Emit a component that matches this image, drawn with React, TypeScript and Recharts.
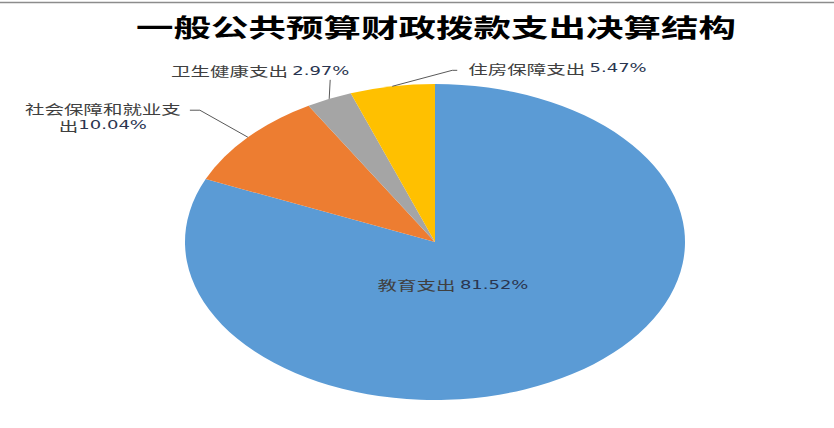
import React from 'react';
import { PieChart, Pie, Cell } from 'recharts';

const TITLE = '一般公共预算财政拨款支出决算结构';
const CATEGORIES = ['教育支出', '社会保障和就业支出', '卫生健康支出', '住房保障支出'];
const SHARES = [81.52, 10.04, 2.97, 5.47];
const COLORS = ['#5B9BD5', '#ED7D31', '#A5A5A5', '#FFC000'];

const data = CATEGORIES.map((name, i) => ({ name, value: SHARES[i] }));

const W = 834;
const H = 428;
const CX = 435;
const CY = 242;
const RY = 158;
const STRETCH = 250 / 158; // pie is drawn horizontally stretched
const TEXT_STRETCH = 1.5;

// label layout (offsets only)
type Layout = {
  inside?: boolean;
  elbow?: [number, number];
  end?: [number, number];
  text: [number, number];
  anchor: 'start' | 'middle' | 'end';
  wrapAt?: number;
};
const LABEL_LAYOUT: Layout[] = [
  { inside: true, text: [18, 43], anchor: 'middle' },
  { elbow: [-48, -27], end: [-58, -27], text: [-87, -2], anchor: 'middle', wrapAt: 8 },
  { elbow: [1, -19], end: [1, -19], text: [-70, -9], anchor: 'middle' },
  { elbow: [60, -16], end: [65, -16], text: [11, -2], anchor: 'start' },
];

const rad = (a: number) => (a * Math.PI) / 180;

const EllipseSector = (props: any) => {
  const { cx, cy, outerRadius, startAngle, endAngle, fill } = props;
  const ry = outerRadius;
  const rx = outerRadius * STRETCH;
  const x1 = cx + rx * Math.cos(rad(startAngle));
  const y1 = cy - ry * Math.sin(rad(startAngle));
  const x2 = cx + rx * Math.cos(rad(endAngle));
  const y2 = cy - ry * Math.sin(rad(endAngle));
  const large = Math.abs(startAngle - endAngle) > 180 ? 1 : 0;
  const sweep = startAngle > endAngle ? 1 : 0;
  return (
    <path
      d={`M${cx},${cy}L${x1},${y1}A${rx},${ry} 0 ${large} ${sweep} ${x2},${y2}Z`}
      fill={fill}
      stroke="none"
    />
  );
};

const TextLine = ({ x, y, anchor, cjk, pct }: any) => (
  <text
    transform={`translate(${x},${y}) scale(${TEXT_STRETCH},1)`}
    textAnchor={anchor}
    dominantBaseline="central"
    fill="#404040"
    fontSize={13}
    fontFamily="'Noto Sans CJK SC', sans-serif"
  >
    <tspan>{cjk}</tspan>
    {pct ? (
      <tspan fontFamily="'DejaVu Sans', sans-serif" fontSize={12} fill="#2a3550">
        {pct}
      </tspan>
    ) : null}
  </text>
);

const renderLabel = (props: any) => {
  const { cx, cy, midAngle, outerRadius, index, name, value } = props;
  const lay = LABEL_LAYOUT[index];
  if (!lay) return null;
  const pct = `${Number(value).toFixed(2)}%`;
  if (lay.inside) {
    return (
      <g>
        <TextLine x={cx + lay.text[0]} y={cy + lay.text[1]} anchor={lay.anchor} cjk={name + ' '} pct={pct} />
      </g>
    );
  }
  const ex = cx + outerRadius * STRETCH * Math.cos(rad(midAngle));
  const ey = cy - outerRadius * Math.sin(rad(midAngle));
  const bx = ex + lay.elbow![0];
  const by = ey + lay.elbow![1];
  const fx = ex + lay.end![0];
  const fy = ey + lay.end![1];
  const tx = fx + lay.text[0];
  const ty = fy + lay.text[1];
  if (lay.wrapAt) {
    return (
      <g>
        <polyline points={`${ex},${ey} ${bx},${by} ${fx},${fy}`} fill="none" stroke="#595959" strokeWidth={1} />
        <TextLine x={tx} y={ty} anchor={lay.anchor} cjk={name.slice(0, lay.wrapAt)} />
        <TextLine x={tx} y={ty + 17} anchor={lay.anchor} cjk={name.slice(lay.wrapAt)} pct={pct} />
      </g>
    );
  }
  return (
    <g>
      <polyline points={`${ex},${ey} ${bx},${by} ${fx},${fy}`} fill="none" stroke="#595959" strokeWidth={1} />
      <TextLine x={tx} y={ty} anchor={lay.anchor} cjk={name + ' '} pct={pct} />
    </g>
  );
};

export default function App() {
  return (
    <div style={{ position: 'absolute', left: 0, top: 0, width: W, height: H, background: '#fff' }}>
      <PieChart width={W} height={H} margin={{ top: 0, right: 0, bottom: 0, left: 0 }}>
        <Pie
          data={data}
          dataKey="value"
          nameKey="name"
          cx={CX}
          cy={CY}
          innerRadius={0}
          outerRadius={RY}
          startAngle={90}
          endAngle={-270}
          stroke="none"
          isAnimationActive={false}
          shape={EllipseSector}
          inactiveShape={EllipseSector}
          activeShape={EllipseSector}
          label={renderLabel}
          labelLine={false}
        >
          {data.map((d, i) => (
            <Cell key={d.name} fill={COLORS[i]} />
          ))}
        </Pie>
      </PieChart>
      <svg width={W} height={H} style={{ position: 'absolute', left: 0, top: 0, pointerEvents: 'none' }}>
        <line x1={0} y1={2.5} x2={W} y2={2.5} stroke="#8c8c8c" strokeWidth={1.5} />
        <text
          transform={`translate(436,26) scale(${TEXT_STRETCH},1)`}
          textAnchor="middle"
          dominantBaseline="central"
          fontSize={25}
          fontWeight="bold"
          fill="#000"
          fontFamily="'Noto Sans CJK SC', sans-serif"
        >
          {TITLE}
        </text>
      </svg>
    </div>
  );
}
